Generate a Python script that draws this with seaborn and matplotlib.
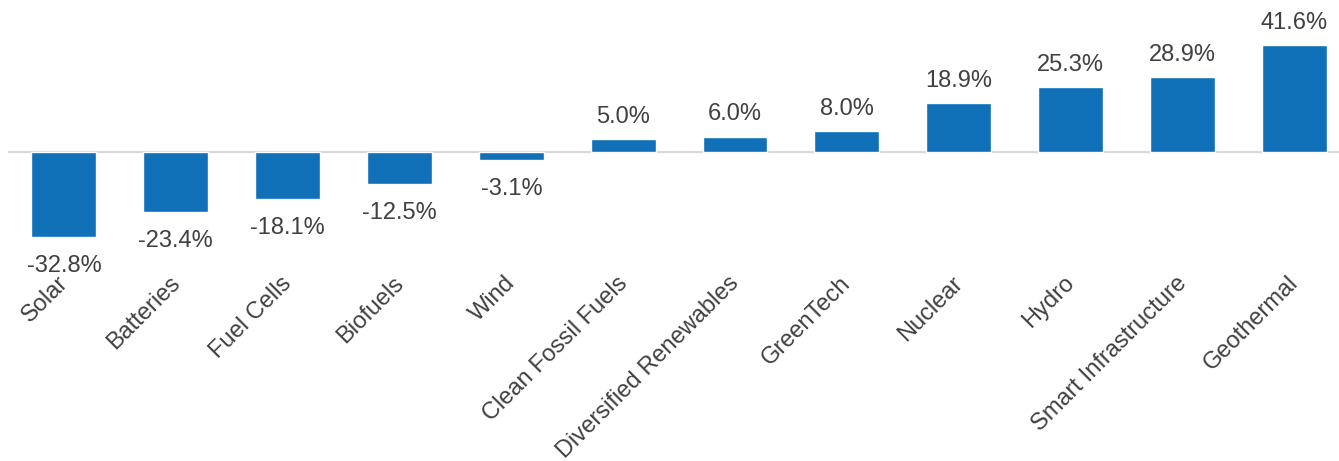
import matplotlib
matplotlib.use("Agg")
import matplotlib.pyplot as plt
import matplotlib.transforms as mtransforms
import seaborn as sns
import pandas as pd

sectors = ["Solar", "Batteries", "Fuel Cells", "Biofuels", "Wind",
           "Clean Fossil Fuels", "Diversified Renewables", "GreenTech",
           "Nuclear", "Hydro", "Smart Infrastructure", "Geothermal"]
returns = [-32.8, -23.4, -18.1, -12.5, -3.1, 5.0, 6.0, 8.0, 18.9, 25.3, 28.9, 41.6]

df = pd.DataFrame({"sector": sectors, "ret": returns})

sns.set_theme(style="white")
plt.rcParams["font.family"] = ["Liberation Sans", "DejaVu Sans"]

text_color = "#404040"
bar_color = "#1071B8"
fs = 17

W, H = 1339, 461
fig = plt.figure(figsize=(W / 100, H / 100), dpi=100)
# axes spans from the top of the figure down to just above the rotated labels
ax_left, ax_right = 8 / W, 1.0
ax_top, ax_bottom = 1.0, 1 - 266 / H
ax = fig.add_axes([ax_left, ax_bottom, ax_right - ax_left, ax_top - ax_bottom])

sns.barplot(data=df, x="sector", y="ret", color=bar_color, width=0.58,
            saturation=1, ax=ax, zorder=2)

ax.axhline(0, color="#D9D9D9", lw=1.6, zorder=1)

px_per_unit = 2.58
ax.set_ylim(-(266 - 152) / px_per_unit, 152 / px_per_unit)
ax.set_xlim(-0.5, 11.4)

for i, v in enumerate(returns):
    off = 8 if v >= 0 else -13
    ax.annotate(f"{v:.1f}%", (i, v), xytext=(0, off), textcoords="offset points",
                ha="center", va="bottom" if v >= 0 else "top",
                fontsize=fs, color=text_color)

ax.set_xlabel("")
ax.set_ylabel("")
ax.set_yticks([])
ax.tick_params(axis="x", length=0, pad=8, colors=text_color, labelsize=fs)
# slanted category labels, nudged so their ends sit just left of each bar's centre
nudge = mtransforms.ScaledTranslation(-0.07, 0.05, fig.dpi_scale_trans)
for lbl in ax.get_xticklabels():
    lbl.set_rotation(45)
    lbl.set_ha("right")
    lbl.set_rotation_mode("anchor")
    lbl.set_transform(lbl.get_transform() + nudge)
for s in ax.spines.values():
    s.set_visible(False)

fig.savefig("out.png", dpi=100)
